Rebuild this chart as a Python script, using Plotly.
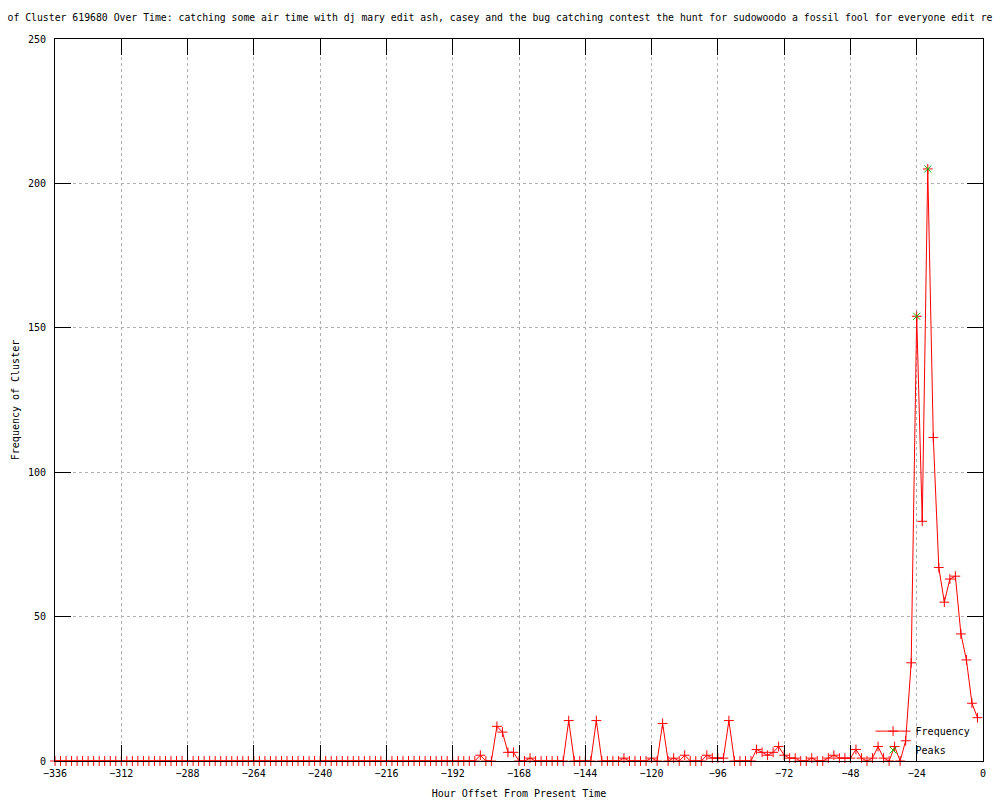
import plotly.graph_objects as go

# Hour offsets (every 2 hours from -336 to -2)
hours = [
    -336, -334, -332, -330, -328, -326, -324, -322, -320, -318, -316, -314,
    -312, -310, -308, -306, -304, -302, -300, -298, -296, -294, -292, -290,
    -288, -286, -284, -282, -280, -278, -276, -274, -272, -270, -268, -266,
    -264, -262, -260, -258, -256, -254, -252, -250, -248, -246, -244, -242,
    -240, -238, -236, -234, -232, -230, -228, -226, -224, -222, -220, -218,
    -216, -214, -212, -210, -208, -206, -204, -202, -200, -198, -196, -194,
    -192, -190, -188, -186, -184, -182, -180, -178, -176, -174, -172, -170,
    -168, -166, -164, -162, -160, -158, -156, -154, -152, -150, -148, -146,
    -144, -142, -140, -138, -136, -134, -132, -130, -128, -126, -124, -122,
    -120, -118, -116, -114, -112, -110, -108, -106, -104, -102, -100, -98,
    -96, -94, -92, -90, -88, -86, -84, -82, -80, -78, -76, -74,
    -72, -70, -68, -66, -64, -62, -60, -58, -56, -54, -52, -50,
    -48, -46, -44, -42, -40, -38, -36, -34, -32, -30, -28, -26,
    -24, -22, -20, -18, -16, -14, -12, -10, -8, -6, -4, -2,
]

frequency = [
    0, 0, 0, 0, 0, 0, 0, 0, 0, 0, 0, 0,
    0, 0, 0, 0, 0, 0, 0, 0, 0, 0, 0, 0,
    0, 0, 0, 0, 0, 0, 0, 0, 0, 0, 0, 0,
    0, 0, 0, 0, 0, 0, 0, 0, 0, 0, 0, 0,
    0, 0, 0, 0, 0, 0, 0, 0, 0, 0, 0, 0,
    0, 0, 0, 0, 0, 0, 0, 0, 0, 0, 0, 0,
    0, 0, 0, 0, 0, 2, 0, 0, 12, 10, 3, 3,
    0, 0, 1, 0, 0, 0, 0, 0, 0, 14, 0, 0,
    0, 0, 14, 0, 0, 0, 0, 1, 0, 0, 0, 0,
    1, 0, 13, 0, 1, 0, 2, 0, 0, 0, 2, 1,
    1, 1, 14, 0, 0, 0, 0, 4, 3, 2, 3, 5,
    2, 1, 1, 0, 0, 1, 0, 0, 1, 2, 1, 1,
    1, 4, 1, 0, 1, 5, 1, 0, 5, 0, 7, 34,
    154, 83, 205, 112, 67, 55, 63, 64, 44, 35, 20, 15,
]

peak_hours = [-24, -20]
peak_values = [154, 205]

x_ticks = [-336, -312, -288, -264, -240, -216, -192, -168, -144, -120, -96, -72, -48, -24, 0]
y_ticks = [0, 50, 100, 150, 200, 250]

title_text = ("of Cluster 619680 Over Time: catching some air time with dj mary edit ash, "
              "casey and the bug catching contest the hunt for sudowoodo a fossil fool for everyone edit re")

FONT = "DejaVu Sans Mono"

fig = go.Figure()
fig.add_trace(go.Scatter(
    x=hours, y=frequency, mode="lines+markers", name="Frequency",
    line=dict(color="#ff0000", width=1),
    marker=dict(symbol="cross-thin", size=7, line=dict(color="#ff0000", width=1), color="#ff0000"),
    cliponaxis=False,
))
fig.add_trace(go.Scatter(
    x=peak_hours, y=peak_values, mode="markers", name="Peaks",
    marker=dict(symbol="x-thin", size=7, line=dict(color="#00c000", width=1), color="#00c000"),
    cliponaxis=False,
))

fig.update_layout(
    width=1000, height=800,
    margin=dict(l=55, r=17, t=39, b=39, autoexpand=False),
    paper_bgcolor="white", plot_bgcolor="white",
    font=dict(family=FONT, size=10, color="black"),
    title=dict(text=title_text, x=0.5, xanchor="center", xref="container",
               y=1 - 18 / 800, yanchor="middle", yref="container",
               font=dict(family=FONT, size=9.8, color="black")),
    showlegend=True,
    legend=dict(x=0.992, xanchor="right", y=-0.005, yanchor="bottom",
                bgcolor="rgba(0,0,0,0)", font=dict(family=FONT, size=10),
                tracegroupgap=0, itemwidth=35),
)

fig.update_xaxes(
    range=[-336, 0], tickmode="array", tickvals=x_ticks,
    ticktext=[str(v).replace("-", "\u2212") for v in x_ticks],
    ticks="inside", ticklen=16, tickcolor="black", tickwidth=1,
    showline=True, linecolor="black", linewidth=1, mirror="ticks",
    showgrid=True, gridcolor="#b0b0b0", gridwidth=1, griddash="dot",
    zeroline=False, ticklabelstandoff=3,
    title=dict(text="Hour Offset From Present Time", standoff=11, font=dict(family=FONT, size=10)),
    tickfont=dict(family=FONT, size=10),
)
fig.update_yaxes(
    range=[0, 250], tickmode="array", tickvals=y_ticks,
    ticks="inside", ticklen=16, tickcolor="black", tickwidth=1,
    showline=True, linecolor="black", linewidth=1, mirror="ticks",
    showgrid=True, gridcolor="#b0b0b0", gridwidth=1, griddash="dot",
    zeroline=False, ticklabelstandoff=6,
    title=dict(text="Frequency of Cluster", standoff=6, font=dict(family=FONT, size=10)),
    tickfont=dict(family=FONT, size=10),
)

fig.write_html("out.html", config={"displayModeBar": False},
               post_script="document.body.style.margin='0';")
